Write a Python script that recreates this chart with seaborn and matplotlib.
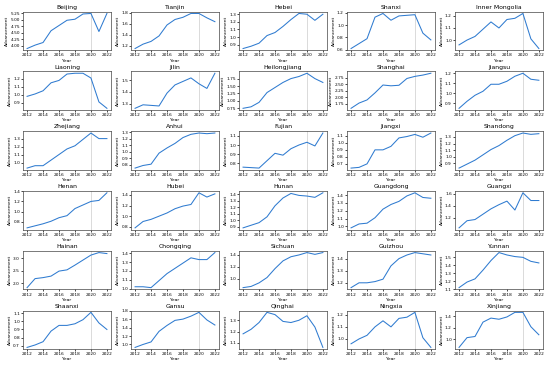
import numpy as np
import pandas as pd
import matplotlib
matplotlib.use("Agg")
import matplotlib.pyplot as plt
from matplotlib.ticker import MaxNLocator
import seaborn as sns

years = list(range(2012, 2023))

beijing = [3.90, 4.03, 4.13, 4.58, 4.78, 4.98, 5.02, 5.22, 5.24, 4.55, 5.24]
tianjin = [1.15, 1.23, 1.28, 1.38, 1.58, 1.68, 1.72, 1.79, 1.79, 1.71, 1.64]
hebei = [0.85, 0.88, 0.92, 1.02, 1.06, 1.14, 1.23, 1.31, 1.30, 1.22, 1.30]
shanxi = [0.62, 0.70, 0.78, 1.13, 1.19, 1.08, 1.15, 1.16, 1.17, 0.87, 0.76]
inner_mongolia = [0.96, 1.00, 1.03, 1.09, 1.15, 1.10, 1.17, 1.18, 1.22, 1.01, 0.93]
liaoning = [0.98, 1.01, 1.05, 1.15, 1.18, 1.26, 1.27, 1.27, 1.21, 0.91, 0.83]
jilin = [1.26, 1.29, 1.285, 1.28, 1.39, 1.46, 1.49, 1.52, 1.47, 1.43, 1.56]
heilongjiang = [0.75, 0.80, 0.95, 1.28, 1.45, 1.62, 1.75, 1.82, 1.93, 1.75, 1.62]
shanghai = [1.58, 1.78, 1.90, 2.17, 2.47, 2.44, 2.46, 2.72, 2.80, 2.85, 2.92]
jiangsu = [0.85, 0.92, 0.98, 1.02, 1.09, 1.09, 1.12, 1.17, 1.20, 1.14, 1.13]
zhejiang = [0.93, 0.96, 0.96, 1.03, 1.10, 1.17, 1.21, 1.29, 1.37, 1.30, 1.30]
anhui = [0.75, 0.79, 0.81, 0.98, 1.06, 1.13, 1.22, 1.27, 1.29, 1.28, 1.29]
fujian = [0.76, 0.755, 0.75, 0.83, 0.91, 0.89, 0.96, 1.00, 1.03, 0.99, 1.13]
jiangxi = [0.64, 0.65, 0.70, 0.90, 0.90, 0.95, 1.07, 1.09, 1.12, 1.08, 1.14]
shandong = [0.83, 0.89, 0.95, 1.03, 1.11, 1.17, 1.25, 1.32, 1.36, 1.34, 1.35]
henan = [0.68, 0.72, 0.76, 0.81, 0.88, 0.92, 1.06, 1.13, 1.20, 1.22, 1.37]
hubei = [0.78, 0.90, 0.94, 1.00, 1.06, 1.14, 1.19, 1.22, 1.44, 1.36, 1.42]
hunan = [0.88, 0.92, 0.96, 1.05, 1.22, 1.34, 1.41, 1.38, 1.37, 1.35, 1.42]
guangdong = [0.98, 1.03, 1.04, 1.11, 1.22, 1.28, 1.32, 1.39, 1.43, 1.37, 1.36]
guangxi = [1.03, 1.15, 1.17, 1.26, 1.35, 1.42, 1.48, 1.33, 1.62, 1.49, 1.49]
hainan = [1.82, 2.18, 2.22, 2.28, 2.48, 2.53, 2.72, 2.92, 3.12, 3.22, 3.18]
chongqing = [1.02, 1.02, 1.01, 1.09, 1.17, 1.23, 1.29, 1.35, 1.33, 1.33, 1.41]
sichuan = [0.85, 0.87, 0.93, 1.02, 1.17, 1.30, 1.37, 1.40, 1.44, 1.41, 1.44]
guizhou = [1.16, 1.20, 1.20, 1.21, 1.23, 1.34, 1.40, 1.43, 1.45, 1.44, 1.43]
yunnan = [1.12, 1.19, 1.23, 1.34, 1.46, 1.56, 1.53, 1.51, 1.50, 1.45, 1.43]
shaanxi = [0.68, 0.71, 0.75, 0.88, 0.95, 0.95, 0.97, 1.02, 1.11, 0.98, 0.90]
gansu = [0.93, 1.00, 1.06, 1.31, 1.45, 1.57, 1.60, 1.67, 1.76, 1.58, 1.46]
qinghai = [1.18, 1.22, 1.28, 1.37, 1.35, 1.29, 1.28, 1.30, 1.34, 1.24, 1.06]
ningxia = [0.96, 1.00, 1.03, 1.10, 1.15, 1.10, 1.17, 1.18, 1.22, 1.01, 0.93]
xinjiang = [0.86, 1.03, 1.05, 1.30, 1.37, 1.35, 1.39, 1.47, 1.47, 1.22, 1.08]

provinces = ["Beijing", "Tianjin", "Hebei", "Shanxi", "Inner Mongolia",
             "Liaoning", "Jilin", "Heilongjiang", "Shanghai", "Jiangsu",
             "Zhejiang", "Anhui", "Fujian", "Jiangxi", "Shandong",
             "Henan", "Hubei", "Hunan", "Guangdong", "Guangxi",
             "Hainan", "Chongqing", "Sichuan", "Guizhou", "Yunnan",
             "Shaanxi", "Gansu", "Qinghai", "Ningxia", "Xinjiang"]
series = [beijing, tianjin, hebei, shanxi, inner_mongolia,
          liaoning, jilin, heilongjiang, shanghai, jiangsu,
          zhejiang, anhui, fujian, jiangxi, shandong,
          henan, hubei, hunan, guangdong, guangxi,
          hainan, chongqing, sichuan, guizhou, yunnan,
          shaanxi, gansu, qinghai, ningxia, xinjiang]

def main():
    plt.rcParams.update({
        "axes.linewidth": 0.5,
        "axes.edgecolor": "#444444",
        "xtick.major.width": 0.5, "ytick.major.width": 0.5,
        "xtick.major.size": 1.3, "ytick.major.size": 1.3,
        "xtick.major.pad": 1.0, "ytick.major.pad": 1.0,
        "xtick.labelsize": 3.1, "ytick.labelsize": 3.1,
        "axes.labelsize": 3.2, "axes.titlesize": 4.4,
        "axes.labelpad": 0.8, "axes.titlepad": 2.0,
    })
    fig, axes = plt.subplots(6, 5, figsize=(5.5, 3.66))
    plt.subplots_adjust(left=0.042, right=0.987, top=0.968, bottom=0.046,
                        wspace=0.23, hspace=0.55)
    for ax, name, vals in zip(axes.flat, provinces, series):
        df = pd.DataFrame({"Year": years, "Advancement": vals})
        sns.lineplot(data=df, x="Year", y="Advancement", ax=ax,
                     color="#2f7bd0", linewidth=0.75)
        ax.axvline(2020, color="#cccccc", linewidth=0.5, zorder=0)
        ax.set_title(name)
        ax.xaxis.set_major_locator(MaxNLocator(nbins=6, integer=True))
        ax.yaxis.set_major_locator(MaxNLocator(nbins=6, steps=[1, 2, 2.5, 5, 10]))
    fig.savefig("out.png", dpi=100)

if __name__ == "__main__":
    main()
